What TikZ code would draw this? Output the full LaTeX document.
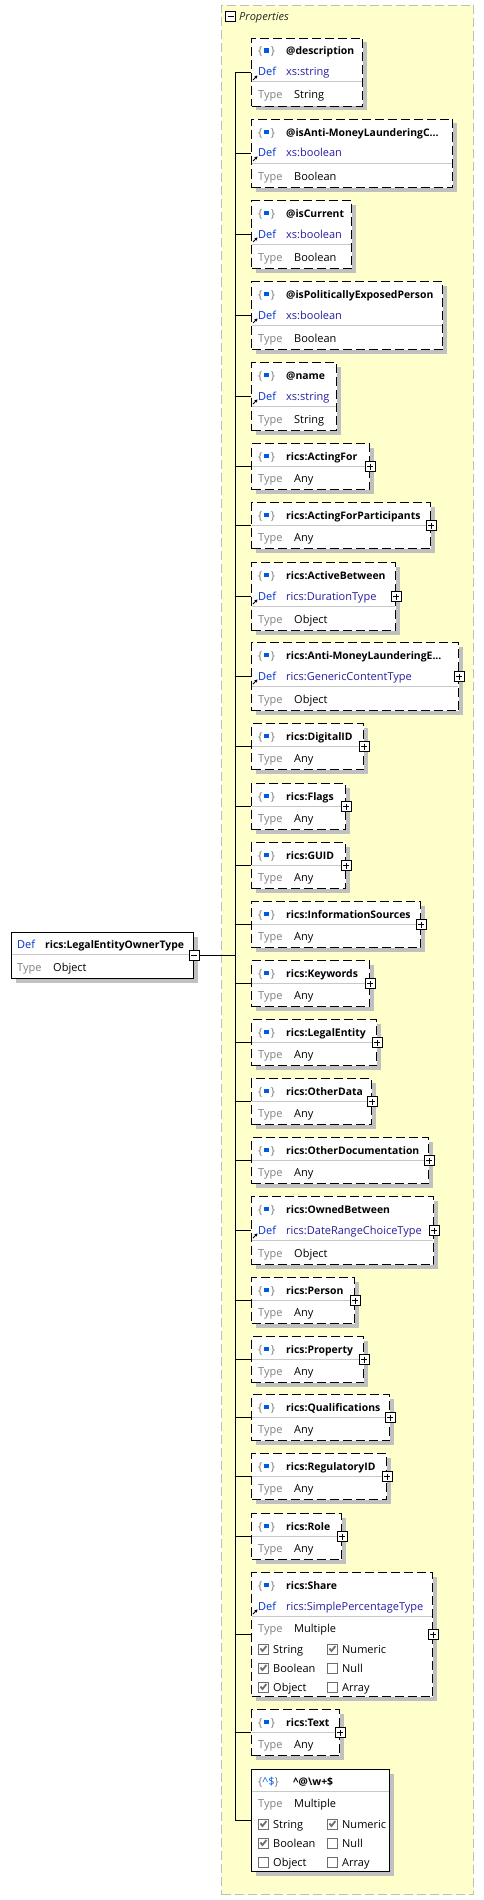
\documentclass[tikz,border=0pt]{standalone}
\usepackage{fontspec}
\setmainfont{Open Sans}
\usetikzlibrary{arrows.meta,shadows}
\definecolor{panelyellow}{RGB}{255,255,204}
\definecolor{panelgray}{RGB}{190,190,190}
\definecolor{shade}{RGB}{192,192,192}
\definecolor{sepgray}{RGB}{200,200,200}
\definecolor{defblue}{RGB}{0,51,204}
\definecolor{defnavy}{RGB}{40,30,160}
\definecolor{typegray}{RGB}{128,128,128}
\definecolor{icongray}{RGB}{120,120,120}
\definecolor{iconblue}{RGB}{0,90,230}
\definecolor{chkgray}{RGB}{110,110,110}

\newcommand{\objicon}{\textcolor{icongray}{\{}\kern1.5pt\textcolor{iconblue}{\rule[2pt]{5.5pt}{4.5pt}}\kern1.5pt\textcolor{icongray}{\}}}
\newcommand{\patticon}{\textcolor{icongray}{\{}\textcolor{iconblue}{\textasciicircum\$}\textcolor{icongray}{\}}}

% property with a Def row
\newcommand{\defbox}[6]{%
  \node[pbox, minimum width={#3-251}, minimum height=68] (#1) at (251,#2) {};
  \draw[sepline] (251.5,#2+44) -- (#3-0.5,#2+44);
  \node[icon] (#1-i) at (258,#2+17) {\objicon};
  \node[ttl] (#1-t) at (286,#2+17) {#4};
  \node[deftag] (#1-d) at (258,#2+38) {Def};
  \draw[refarrow] (253,#2+42) -- (257.5,#2+37.5);
  \node[defval] (#1-dv) at (286,#2+38) {#5};
  \node[typetag] (#1-y) at (258,#2+61) {Type};
  \node[val] (#1-yv) at (294,#2+61) {#6};
}
% property of type Any
\newcommand{\anybox}[4]{%
  \node[pbox, minimum width={#3-251}, minimum height=46] (#1) at (251,#2) {};
  \draw[sepline] (251.5,#2+23) -- (#3-0.5,#2+23);
  \node[icon] (#1-i) at (258,#2+17) {\objicon};
  \node[ttl] (#1-t) at (286,#2+17) {#4};
  \node[typetag] (#1-y) at (258,#2+39) {Type};
  \node[val] (#1-yv) at (294,#2+39) {Any};
}
\newcommand{\addplus}[1]{\node[plusbtn] (#1-p) at (#1.east) {};}
\newcommand{\ticked}[4]{%
  \node[chk, chkmark] (#1) at (#2,#3) {};
  \node[val] (#1-l) at (#2+15,#3+4) {#4};
}
\newcommand{\unticked}[4]{%
  \node[chk] (#1) at (#2,#3) {};
  \node[val] (#1-l) at (#2+15,#3+4) {#4};
}

\begin{document}
\begin{tikzpicture}[x=1pt,y=-1pt,
    pbox/.style={draw, line width=1pt, dash pattern=on 9pt off 4pt, fill=white, inner sep=0pt,
      anchor=north west, drop shadow={shadow xshift=4pt, shadow yshift=-4pt, fill=shade, opacity=1}},
    sbox/.style={pbox, solid},
    panel/.style={draw=panelgray, line width=1pt, dash pattern=on 9pt off 4pt, fill=panelyellow,
      inner sep=0pt, anchor=north west},
    sepline/.style={draw=sepgray, line width=1pt},
    link/.style={draw=black, line width=1pt},
    refarrow/.style={line width=1pt, -{Stealth[length=3pt,width=3.5pt]}},
    txt/.style={anchor=base west, inner sep=0pt, font=\fontsize{11}{13}\selectfont},
    ttl/.style={txt, font=\fontsize{10.4}{13}\selectfont\bfseries},
    icon/.style={txt},
    deftag/.style={txt, text=defblue},
    defval/.style={txt, text=defnavy},
    typetag/.style={txt, text=typegray},
    val/.style={txt, text=black},
    hdr/.style={txt, font=\fontsize{11}{13}\selectfont\itshape, text=black!85},
    btn/.style={draw, solid, line width=0.9pt, fill=white, minimum size=10pt, inner sep=0pt},
    plusbtn/.style={btn, path picture={
      \draw[line width=0.9pt] ([yshift=-2pt]path picture bounding box.north) -- ([yshift=2pt]path picture bounding box.south);
      \draw[line width=0.9pt] ([xshift=2pt]path picture bounding box.west) -- ([xshift=-2pt]path picture bounding box.east);}},
    minusbtn/.style={btn, path picture={
      \draw[line width=0.9pt] ([xshift=2pt]path picture bounding box.west) -- ([xshift=-2pt]path picture bounding box.east);}},
    chk/.style={draw=chkgray, line width=0.9pt, fill=white, minimum size=10pt, inner sep=0pt, anchor=west},
    chkmark/.style={path picture={
      \draw[line width=1.8pt] ([shift={(-3pt,0.5pt)}]path picture bounding box.center)
        -- ([shift={(-1pt,-2pt)}]path picture bounding box.center)
        -- ([shift={(3pt,3pt)}]path picture bounding box.center);}}
  ]
  \useasboundingbox (0,0) rectangle (483,1900);

  % Properties panel
  \node[panel, minimum width=252, minimum height=1889] (props) at (221,5) {};
  \node[minusbtn] (props-m) at (230.5,16.5) {};
  \node[hdr] (props-t) at (239,20.5) {Properties};
  \coordinate (trunk) at (235.5,0);

  % Root type
  \node[sbox, minimum width=182, minimum height=46] (main) at (11,932) {};
  \draw[sepline] (11.5,954) -- (192.5,954);
  \node[deftag] (main-d) at (17,948) {Def};
  \node[ttl] (main-t) at (45,948) {rics:LegalEntityOwnerType};
  \node[typetag] (main-y) at (17,971) {Type};
  \node[val] (main-yv) at (53,971) {Object};
  \node[minusbtn] (main-m) at (main.east) {};

  % Attributes
  \defbox{desc}{38}{362}{@description}{xs:string}{String}
  \defbox{aml}{119}{452}{@isAnti-MoneyLaunderingC...}{xs:boolean}{Boolean}
  \defbox{cur}{200}{351}{@isCurrent}{xs:boolean}{Boolean}
  \defbox{pep}{281}{442}{@isPoliticallyExposedPerson}{xs:boolean}{Boolean}
  \defbox{name}{362}{336}{@name}{xs:string}{String}

  % Elements
  \anybox{actf}{443}{369}{rics:ActingFor}
  \anybox{actfp}{502}{430}{rics:ActingForParticipants}
  \defbox{actb}{562}{395}{rics:ActiveBetween}{rics:DurationType}{Object}
  \defbox{amle}{642}{458}{rics:Anti-MoneyLaunderingE...}{rics:GenericContentType}{Object}
  \anybox{digid}{723}{363}{rics:DigitalID}
  \anybox{flags}{783}{345}{rics:Flags}
  \anybox{guid}{842}{345}{rics:GUID}
  \anybox{infos}{901}{420}{rics:InformationSources}
  \anybox{kw}{960}{369}{rics:Keywords}
  \anybox{legal}{1019}{376}{rics:LegalEntity}
  \anybox{odata}{1078}{371}{rics:OtherData}
  \anybox{odoc}{1137}{428}{rics:OtherDocumentation}
  \defbox{owned}{1196}{433}{rics:OwnedBetween}{rics:DateRangeChoiceType}{Object}
  \anybox{person}{1277}{354}{rics:Person}
  \anybox{prop}{1336}{363}{rics:Property}
  \anybox{qual}{1394}{389}{rics:Qualifications}
  \anybox{regid}{1453}{386}{rics:RegulatoryID}
  \anybox{role}{1513}{341}{rics:Role}

  % Share, several types
  \node[pbox, minimum width=181, minimum height=124] (share) at (251,1572) {};
  \draw[sepline] (251.5,1616) -- (431.5,1616);
  \node[icon] (share-i) at (258,1589) {\objicon};
  \node[ttl] (share-t) at (286,1589) {rics:Share};
  \node[deftag] (share-d) at (258,1610) {Def};
  \draw[refarrow] (253,1614) -- (257.5,1609.5);
  \node[defval] (share-dv) at (286,1610) {rics:SimplePercentageType};
  \node[typetag] (share-y) at (258,1632) {Type};
  \node[val] (share-yv) at (294,1632) {Multiple};
  \ticked{share-c1}{258}{1649}{String}
  \ticked{share-c2}{327}{1649}{Numeric}
  \ticked{share-c3}{258}{1668}{Boolean}
  \unticked{share-c4}{327}{1668}{Null}
  \ticked{share-c5}{258}{1687}{Object}
  \unticked{share-c6}{327}{1687}{Array}

  \anybox{text}{1709}{339}{rics:Text}

  % Pattern property
  \node[sbox, minimum width=138, minimum height=102] (patt) at (251,1769) {};
  \draw[sepline] (251.5,1791) -- (388.5,1791);
  \node[icon] (patt-i) at (258,1785) {\patticon};
  \node[ttl] (patt-t) at (293,1785) {\textasciicircum@\textbackslash w+\$};
  \node[typetag] (patt-y) at (258,1807) {Type};
  \node[val] (patt-yv) at (294,1807) {Multiple};
  \ticked{patt-c1}{258}{1824}{String}
  \ticked{patt-c2}{327}{1824}{Numeric}
  \ticked{patt-c3}{258}{1843}{Boolean}
  \unticked{patt-c4}{327}{1843}{Null}
  \unticked{patt-c5}{258}{1862}{Object}
  \unticked{patt-c6}{327}{1862}{Array}

  % Expand buttons
  \foreach \b in {actf,actfp,actb,amle,digid,flags,guid,infos,kw,legal,odata,odoc,owned,person,prop,qual,regid,role,share,text}
    {\addplus{\b}}

  % Connectors
  \draw[link] (main-m.east) -- (main-m.east -| trunk);
  \draw[link] (desc.west -| trunk) -- (patt.west -| trunk);
  \foreach \b in {desc,aml,cur,pep,name,actf,actfp,actb,amle,digid,flags,guid,infos,kw,legal,odata,odoc,owned,person,prop,qual,regid,role,share,text,patt}
    \draw[link] (\b.west -| trunk) -- (\b.west);
\end{tikzpicture}
\end{document}
